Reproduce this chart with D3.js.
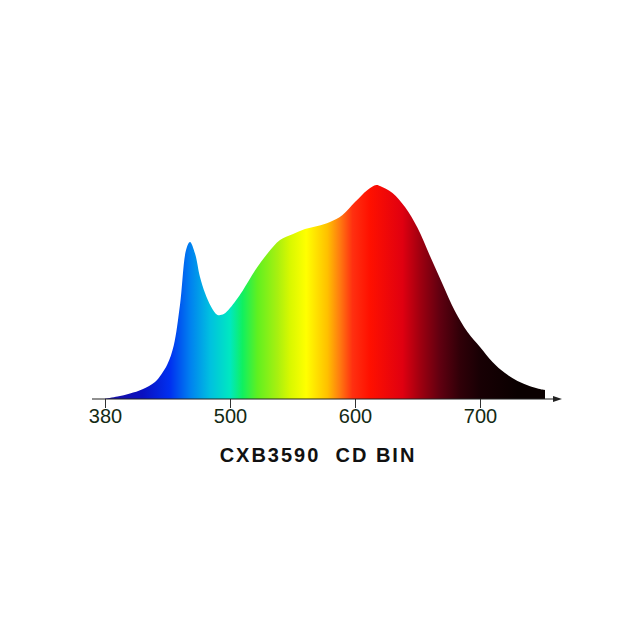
<html>
<head>
<script src="https://d3js.org/d3.v7.min.js"></script>
<style>
body { margin: 0; background: #fff; }
text { font-family: "Liberation Sans", Arial, sans-serif; }
</style>
</head>
<body>
<svg width="643" height="643"></svg>
<script>
// relative spectral power (peak = 100)
var wavelengths = [400,410,420,430,440,445,450,455,460,465,468,472,476,480,485,490,495,500,510,520,530,540,550,560,570,580,590,600,610,617,620,630,640,650,660,670,680,690,700,710,720,730,740,750,752];
var intensity   = [0.2,1.2,2.6,4.6,8,11.5,16.3,25,44,70,73.4,68,57,49.5,43,39.3,39.7,42.5,50.5,60,68,74.3,77,79.4,80.8,82.7,86,92,97.7,100,99.5,96.3,89.7,80,66.8,53.7,41,31.3,24.3,17.3,12.1,8.4,6,4.4,4.2];

var tickValues = [400,500,600,700];
var tickLabels = ["380","500","600","700"];

// colour bands of the fill, by wavelength
var stopWl     = [400,430,452,468,484,500,510,522,538,548,561,578,588,598,612,638,652,668,684,700,730];
var stopColors = ["#1a10a0","#0a10c0","#0030f0","#0080f0","#00c0e0","#00e8c0","#10f060","#60f020","#a8f010","#d8f800","#ffff00","#ffc000","#ff7a10","#ff3010","#ff1000","#e00010","#a00010","#600010","#300008","#180004","#0a0000"];

var data = wavelengths.map((w,i) => ({wl: w, v: intensity[i]}));

var x = d3.scaleLinear().domain([400,700]).range([105,480]);
var y = d3.scaleLinear().domain([0,100]).range([399,185]);

var svg = d3.select("svg");

var grad = svg.append("defs").append("linearGradient")
	.attr("id","spec")
	.attr("gradientUnits","userSpaceOnUse")
	.attr("x1", x(400)).attr("x2", x(730))
	.attr("y1", 0).attr("y2", 0);
stopWl.forEach((w,i) => {
	grad.append("stop")
		.attr("offset", (x(w)-x(400))/(x(730)-x(400)))
		.attr("stop-color", stopColors[i]);
});

var area = d3.area()
	.x(d => x(d.wl))
	.y0(y(0))
	.y1(d => y(d.v))
	.curve(d3.curveCatmullRom.alpha(0.5));

svg.append("path").datum(data)
	.attr("d", area)
	.attr("fill", "url(#spec)");

// axis
var axis = svg.append("g").attr("transform","translate(0,"+y(0)+")")
	.call(d3.axisBottom(x).tickValues(tickValues).tickSize(9).tickFormat((d,i) => tickLabels[i]));
axis.select(".domain").remove();
axis.selectAll("line").attr("stroke","#333");
axis.selectAll("text")
	.attr("y", 10)
	.attr("fill","#142a14")
	.style("font-size","20px")
	.style("font-family","'Liberation Sans', Arial, sans-serif");

svg.append("line")
	.attr("x1", 92).attr("x2", 556)
	.attr("y1", y(0)).attr("y2", y(0))
	.attr("stroke","#222").attr("stroke-width",1.2);
svg.append("path")
	.attr("d","M562,"+y(0)+" L553,"+(y(0)-3)+" L553,"+(y(0)+3)+" Z")
	.attr("fill","#222");

svg.append("text")
	.attr("x", 318).attr("y", 462)
	.attr("text-anchor","middle")
	.style("font-size","20px")
	.style("font-weight","bold")
	.style("letter-spacing","2px")
	.style("white-space","pre")
	.attr("fill","#111")
	.text("CXB3590  CD BIN");
</script>
</body>
</html>
